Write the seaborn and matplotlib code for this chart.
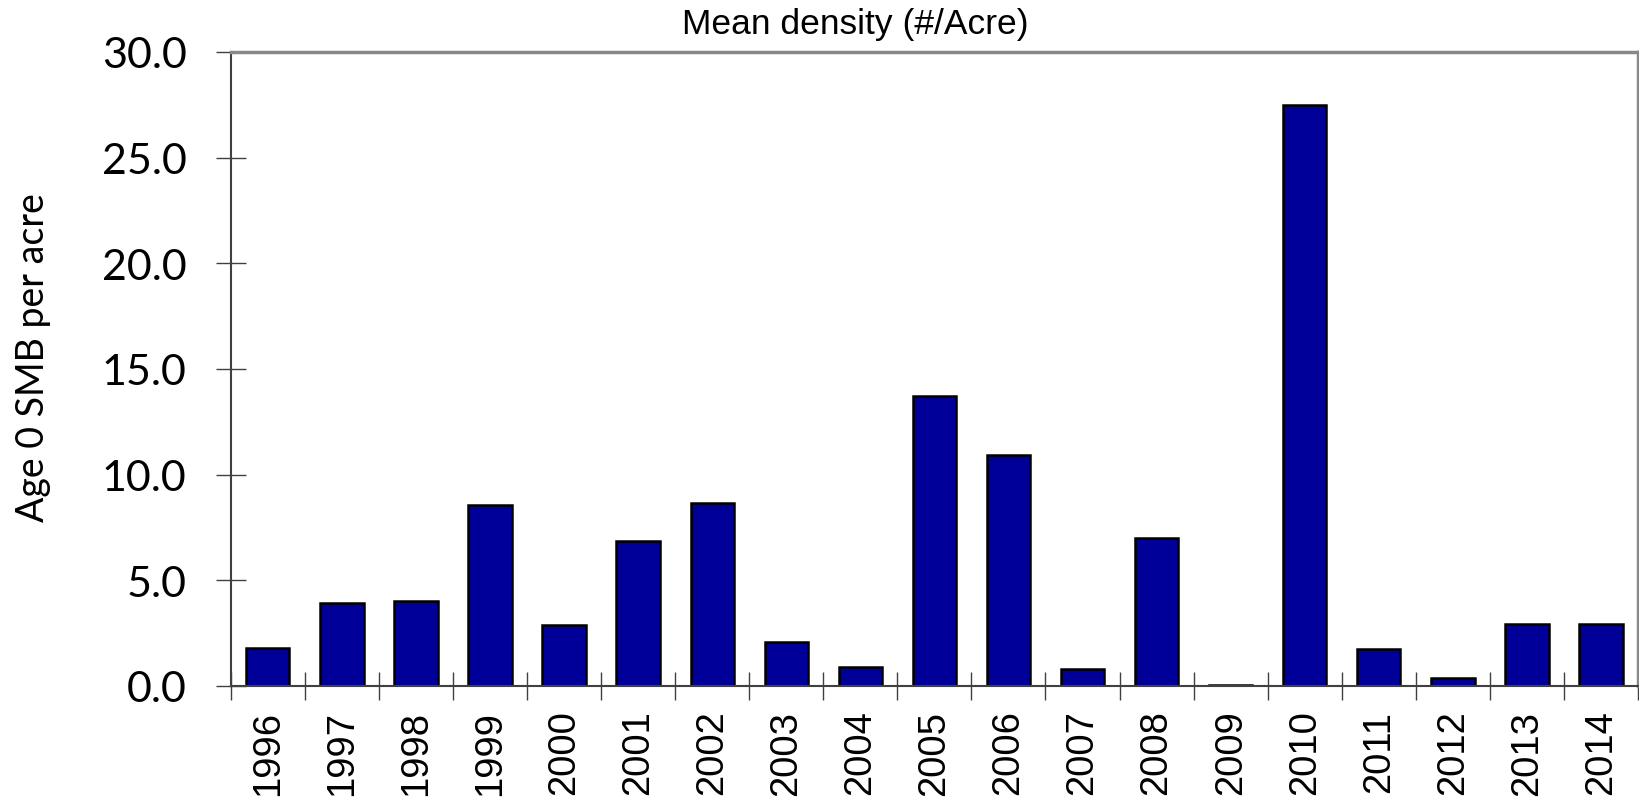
import numpy as np
import pandas as pd
import matplotlib
matplotlib.use('Agg')
import matplotlib.pyplot as plt
import seaborn as sns
from matplotlib.ticker import FormatStrFormatter, FixedLocator

# data
years = ['1996', '1997', '1998', '1999', '2000', '2001', '2002', '2003', '2004', '2005',
         '2006', '2007', '2008', '2009', '2010', '2011', '2012', '2013', '2014']
density = [1.82, 3.91, 4.04, 8.55, 2.87, 6.87, 8.65, 2.10, 0.89, 13.74,
           10.92, 0.79, 7.02, 0.04, 27.48, 1.75, 0.36, 2.92, 2.92]

df = pd.DataFrame({'Year': years, 'Density': density})

sns.set_theme(style='white')
plt.rcParams['text.color'] = 'black'
plt.rcParams['xtick.color'] = 'black'
plt.rcParams['ytick.color'] = 'black'
plt.rcParams['axes.labelcolor'] = 'black'

fig = plt.figure(figsize=(16.39, 8.03), dpi=100)
ax = fig.add_axes([0.1408, 0.1445, 0.8586, 0.7895])

sns.barplot(data=df, x='Year', y='Density', color='#000099', saturation=1,
            edgecolor='black', linewidth=1.8, width=0.585, ax=ax)

ax.set_xlim(-0.5, len(years) - 0.5)
ax.set_ylim(0, 30)
ax.set_yticks(np.arange(0, 30.1, 5))
ax.yaxis.set_major_formatter(FormatStrFormatter('%.1f'))

#tick marks between categories, labels under bars
ax.xaxis.set_minor_locator(FixedLocator(np.arange(-0.5, len(years), 1)))
ax.tick_params(axis='x', which='major', bottom=True, length=0, pad=17, labelsize=27.5,
               rotation=90, labelcolor='black')
ax.tick_params(axis='x', which='minor', bottom=True, direction='inout', length=19.5,
               width=1, color='#404040')
ax.tick_params(axis='y', left=True, direction='inout', length=21.5, width=1, color='#404040',
               pad=21, labelsize=31, labelcolor='black')
for lab in ax.get_xticklabels():
    lab.set_family('Liberation Sans')
for lab in ax.get_yticklabels():
    lab.set_family('Lato')

ax.set_xlabel('')
ax.set_ylabel('Age 0 SMB per acre', fontsize=27, family='Lato', color='black')
ax.yaxis.set_label_coords(-0.128, 0.52)
ax.set_title('Mean density (#/Acre)', fontsize=25.5, family='Liberation Sans', x=0.4436,
             pad=14, color='black')

for side in ['left', 'bottom']:
    ax.spines[side].set_color('#404040')
    ax.spines[side].set_linewidth(1.5)
for side in ['top', 'right']:
    ax.spines[side].set_color('#888888')
    ax.spines[side].set_linewidth(2.5)

fig.savefig('out.png', dpi=100)
